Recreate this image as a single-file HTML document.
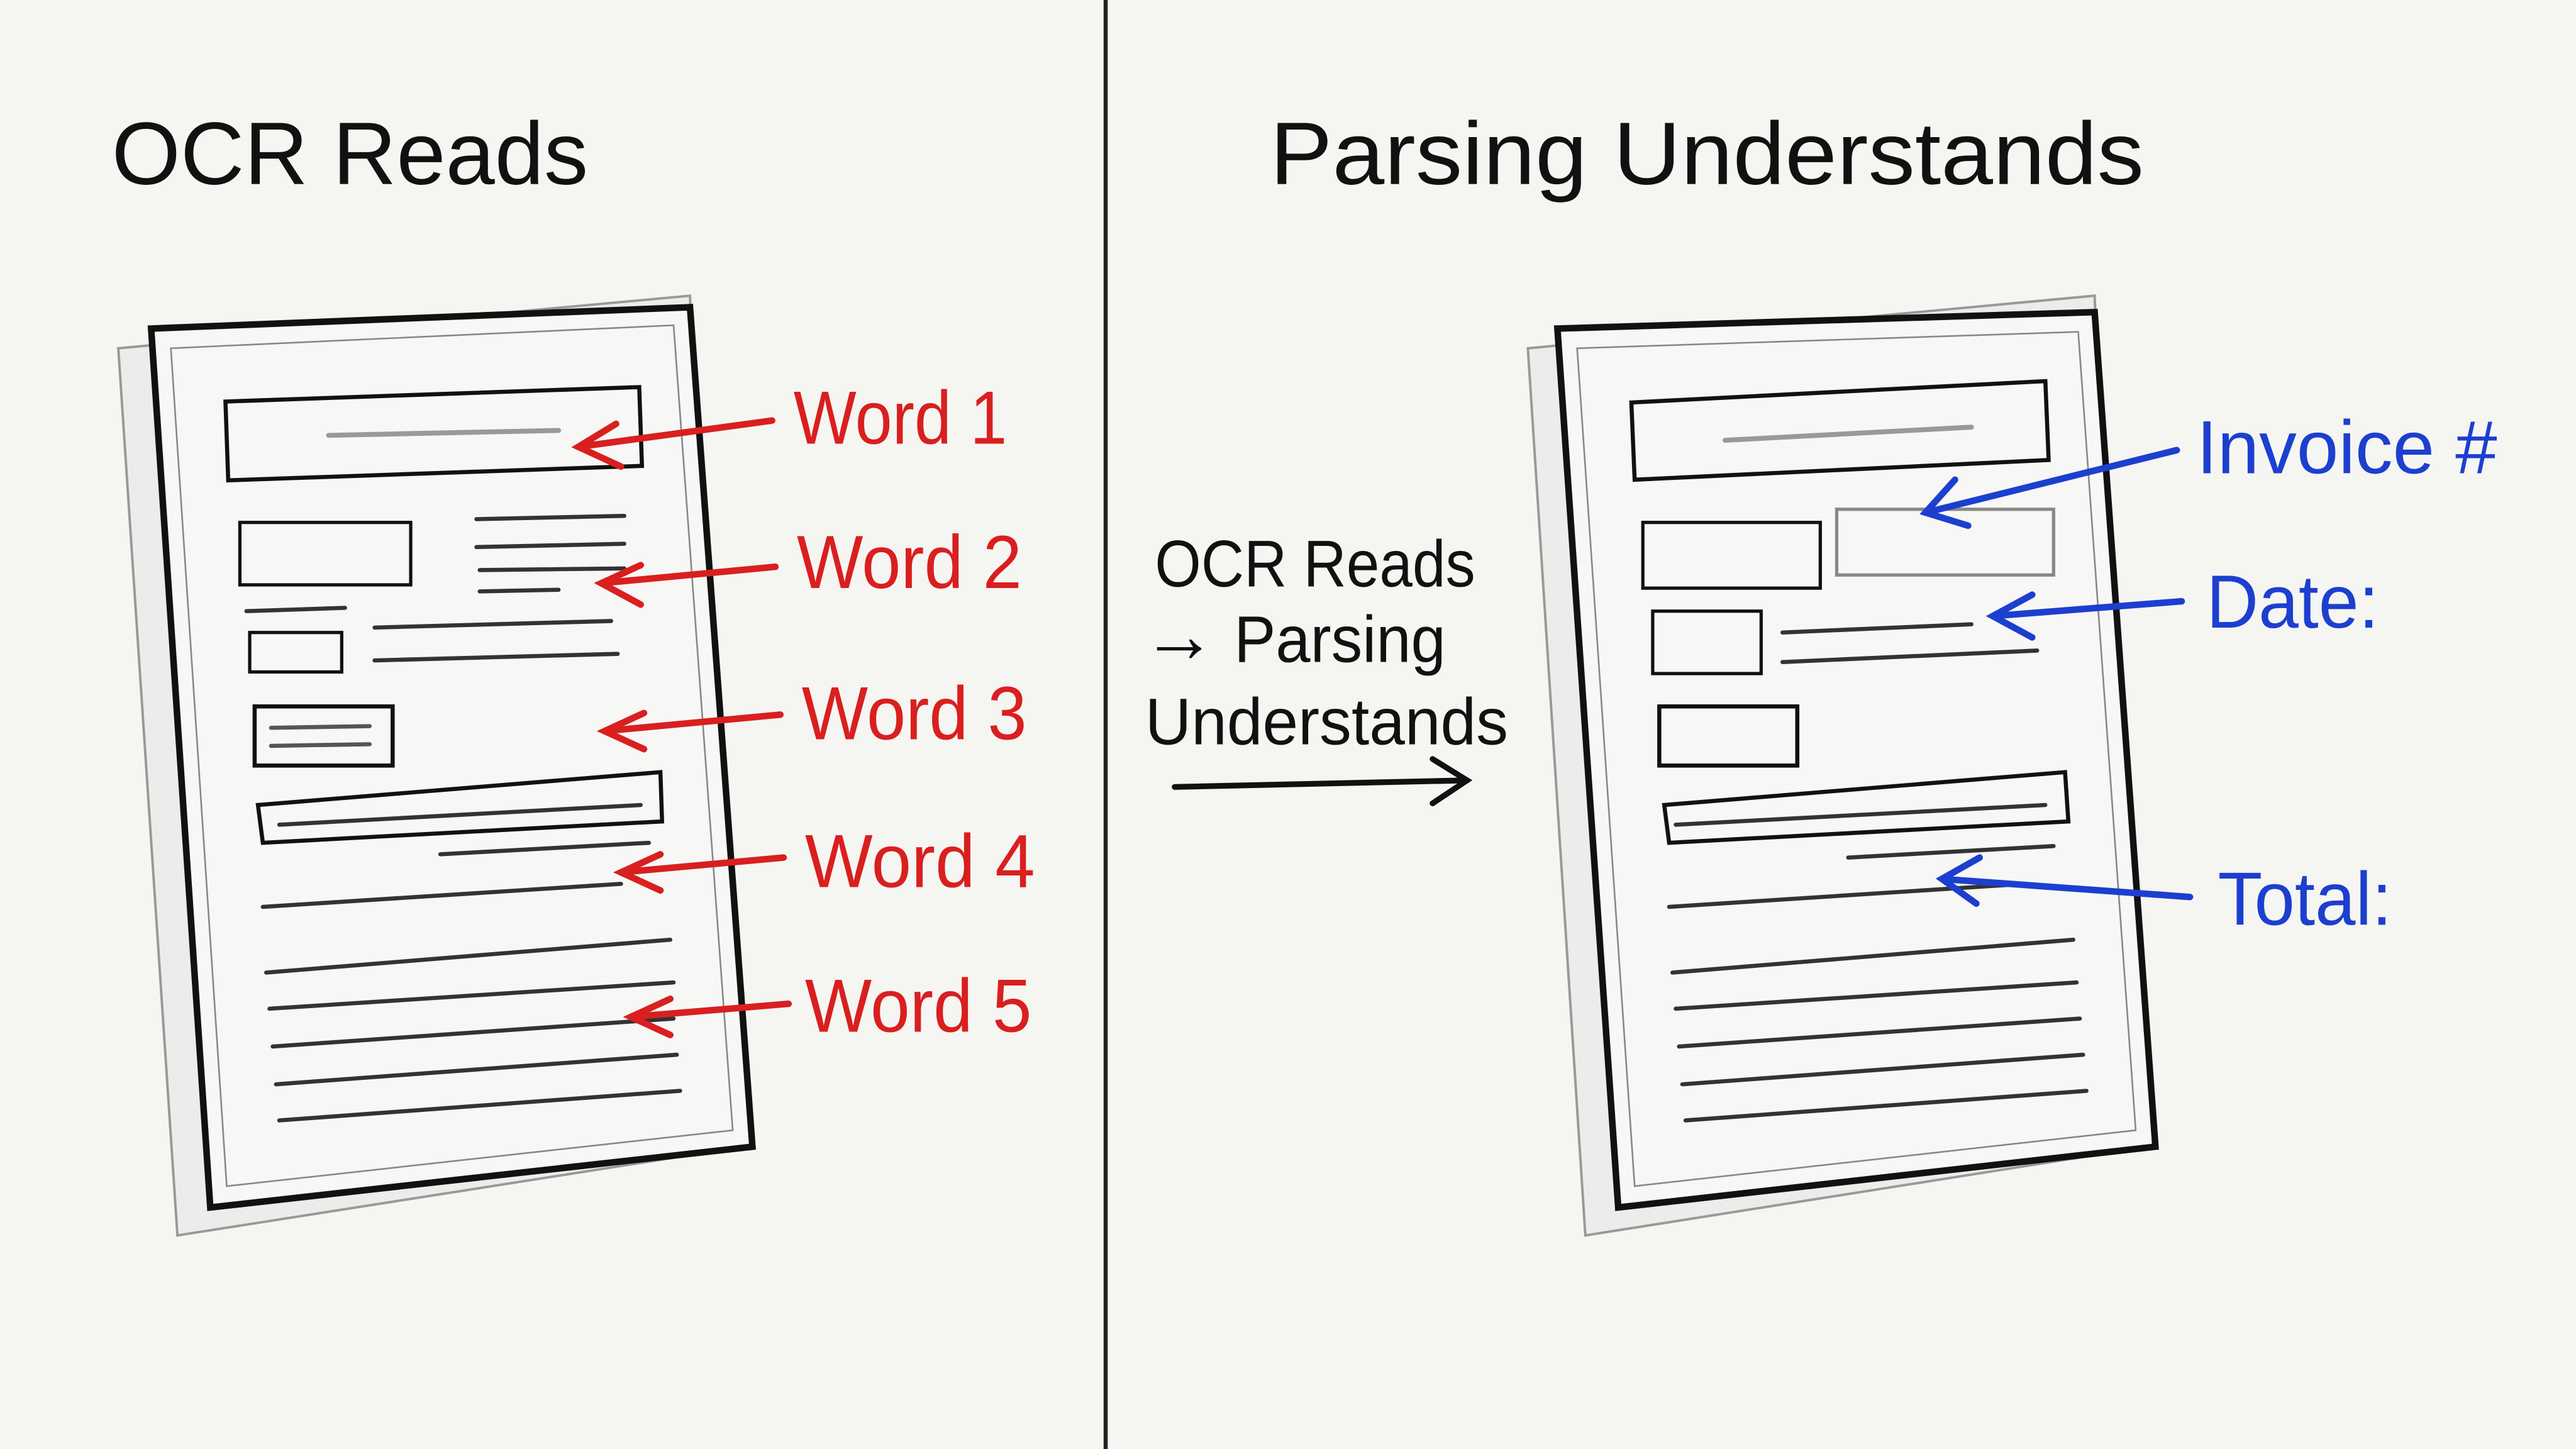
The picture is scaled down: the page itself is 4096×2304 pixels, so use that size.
<!DOCTYPE html>
<html><head><meta charset="utf-8"><style>
html,body{margin:0;padding:0;background:#f5f5f2;}
svg{display:block;}
text{font-family:"Liberation Sans",sans-serif;}
</style></head><body>
<svg width="4096" height="2304" viewBox="0 0 1568 882" xmlns="http://www.w3.org/2000/svg">
<rect width="1568" height="882" fill="#f5f5f2"/>
<line x1="673" y1="0" x2="673" y2="882" stroke="#222" stroke-width="2.5"/>
<text x="68" y="112" font-size="54" fill="#111" textLength="290" lengthAdjust="spacingAndGlyphs">OCR Reads</text>
<text x="773" y="112" font-size="54" fill="#111" textLength="532" lengthAdjust="spacingAndGlyphs">Parsing Understands</text>

<!-- Left doc -->
<g stroke="#111" fill="none" stroke-linecap="round">
<polygon points="72,212 420,180 440,700 108,752" fill="#ececea" stroke="#999" stroke-width="1.5"/>
<polygon points="92,200 420,187 458,698 128,735" fill="#f7f7f5" stroke-width="4"/>
<polygon points="104,212 410,198 446,688 138,722" stroke="#888" stroke-width="1"/>
<rect x="138" y="240" width="252" height="48" transform="rotate(-2 264 264)" stroke-width="2.5"/>
<line x1="200" y1="265" x2="340" y2="262" stroke="#999" stroke-width="3"/>
<rect x="146" y="318" width="104" height="38" stroke-width="2"/>
<g stroke="#333" stroke-width="2.5"><line x1="290" y1="316" x2="380" y2="314"/><line x1="290" y1="333" x2="380" y2="331"/><line x1="292" y1="347" x2="380" y2="346"/><line x1="292" y1="360" x2="340" y2="359"/>
<line x1="150" y1="372" x2="210" y2="370"/><line x1="228" y1="382" x2="372" y2="378"/><line x1="228" y1="402" x2="376" y2="398"/></g>
<rect x="152" y="385" width="56" height="24" stroke-width="2"/>
<rect x="155" y="430" width="84" height="36" stroke-width="2.5"/>
<g stroke="#555" stroke-width="2.5"><line x1="165" y1="443" x2="225" y2="442"/><line x1="165" y1="454" x2="225" y2="453"/></g>
<polygon points="157,490 402,470 403,500 160,513" stroke-width="2.5"/>
<g stroke="#333" stroke-width="2.5"><line x1="170" y1="502" x2="390" y2="490"/><line x1="268" y1="520" x2="395" y2="513"/>
<line x1="160" y1="552" x2="378" y2="538"/><line x1="162" y1="592" x2="408" y2="572"/><line x1="164" y1="614" x2="410" y2="598"/><line x1="166" y1="637" x2="410" y2="620"/><line x1="168" y1="660" x2="412" y2="642"/><line x1="170" y1="682" x2="414" y2="664"/></g>
</g>
<g stroke="#d91f1f" stroke-width="4" fill="none" stroke-linecap="round">
<line x1="470" y1="256" x2="352" y2="272"/><path d="M375 258 L352 272 L378 284"/>
<line x1="472" y1="345" x2="366" y2="355"/><path d="M390 344 L366 355 L390 368"/>
<line x1="475" y1="435" x2="368" y2="445"/><path d="M392 434 L368 445 L392 456"/>
<line x1="477" y1="522" x2="378" y2="531"/><path d="M402 520 L378 531 L402 542"/>
<line x1="480" y1="611" x2="384" y2="619"/><path d="M408 608 L384 619 L408 630"/>
</g>
<g fill="#d91f1f" font-size="46" lengthAdjust="spacingAndGlyphs">
<text x="483" y="270" textLength="130" lengthAdjust="spacingAndGlyphs">Word 1</text>
<text x="485" y="358" textLength="137" lengthAdjust="spacingAndGlyphs">Word 2</text>
<text x="488" y="450" textLength="137" lengthAdjust="spacingAndGlyphs">Word 3</text>
<text x="490" y="540" textLength="140" lengthAdjust="spacingAndGlyphs">Word 4</text>
<text x="490" y="628" textLength="138" lengthAdjust="spacingAndGlyphs">Word 5</text>
</g>

<!-- middle -->
<g fill="#111" font-size="40">
<text x="703" y="357" textLength="195" lengthAdjust="spacingAndGlyphs">OCR Reads</text>
<text x="695" y="403" textLength="185" lengthAdjust="spacingAndGlyphs"><tspan font-size="48">→</tspan> Parsing</text>
<text x="697" y="453" textLength="221" lengthAdjust="spacingAndGlyphs">Understands</text>
</g>
<g stroke="#111" stroke-width="3.5" fill="none" stroke-linecap="round">
<line x1="715" y1="479" x2="893" y2="475"/><path d="M872 462 L893 475 L872 489"/>
</g>

<!-- Right doc -->
<g stroke="#111" fill="none" stroke-linecap="round">
<polygon points="930,212 1275,180 1295,700 965,752" fill="#ececea" stroke="#999" stroke-width="1.5"/>
<polygon points="948,200 1275,190 1312,698 985,735" fill="#f7f7f5" stroke-width="4"/>
<polygon points="960,212 1265,202 1300,688 995,722" stroke="#888" stroke-width="1"/>
<polygon points="993,245 1245,232 1247,280 995,292" stroke-width="2.5"/>
<line x1="1050" y1="268" x2="1200" y2="260" stroke="#999" stroke-width="3"/>
<rect x="1000" y="318" width="108" height="40" stroke-width="2"/>
<rect x="1118" y="310" width="132" height="40" stroke="#888" stroke-width="2"/>
<rect x="1006" y="372" width="66" height="38" stroke-width="2"/>
<g stroke="#333" stroke-width="2.5"><line x1="1085" y1="385" x2="1200" y2="380"/><line x1="1085" y1="403" x2="1240" y2="396"/></g>
<rect x="1010" y="430" width="84" height="36" stroke-width="2.5"/>
<polygon points="1013,490 1257,470 1259,500 1016,513" stroke-width="2.5"/>
<g stroke="#333" stroke-width="2.5"><line x1="1020" y1="502" x2="1245" y2="490"/><line x1="1125" y1="522" x2="1250" y2="515"/>
<line x1="1016" y1="552" x2="1232" y2="538"/><line x1="1018" y1="592" x2="1262" y2="572"/><line x1="1020" y1="614" x2="1264" y2="598"/><line x1="1022" y1="637" x2="1266" y2="620"/><line x1="1024" y1="660" x2="1268" y2="642"/><line x1="1026" y1="682" x2="1270" y2="664"/></g>
</g>
<g stroke="#1d3fcf" stroke-width="4" fill="none" stroke-linecap="round">
<line x1="1325" y1="274" x2="1172" y2="312"/><path d="M1190 292 L1172 312 L1198 320"/>
<line x1="1328" y1="366" x2="1213" y2="375"/><path d="M1237 362 L1213 375 L1237 388"/>
<line x1="1333" y1="546" x2="1182" y2="535"/><path d="M1205 522 L1182 535 L1203 550"/>
</g>
<g fill="#1d3fcf" font-size="46">
<text x="1337" y="288" textLength="183" lengthAdjust="spacingAndGlyphs">Invoice #</text>
<text x="1343" y="382" textLength="105" lengthAdjust="spacingAndGlyphs">Date:</text>
<text x="1350" y="563" textLength="106" lengthAdjust="spacingAndGlyphs">Total:</text>
</g>
</svg>
</body></html>
